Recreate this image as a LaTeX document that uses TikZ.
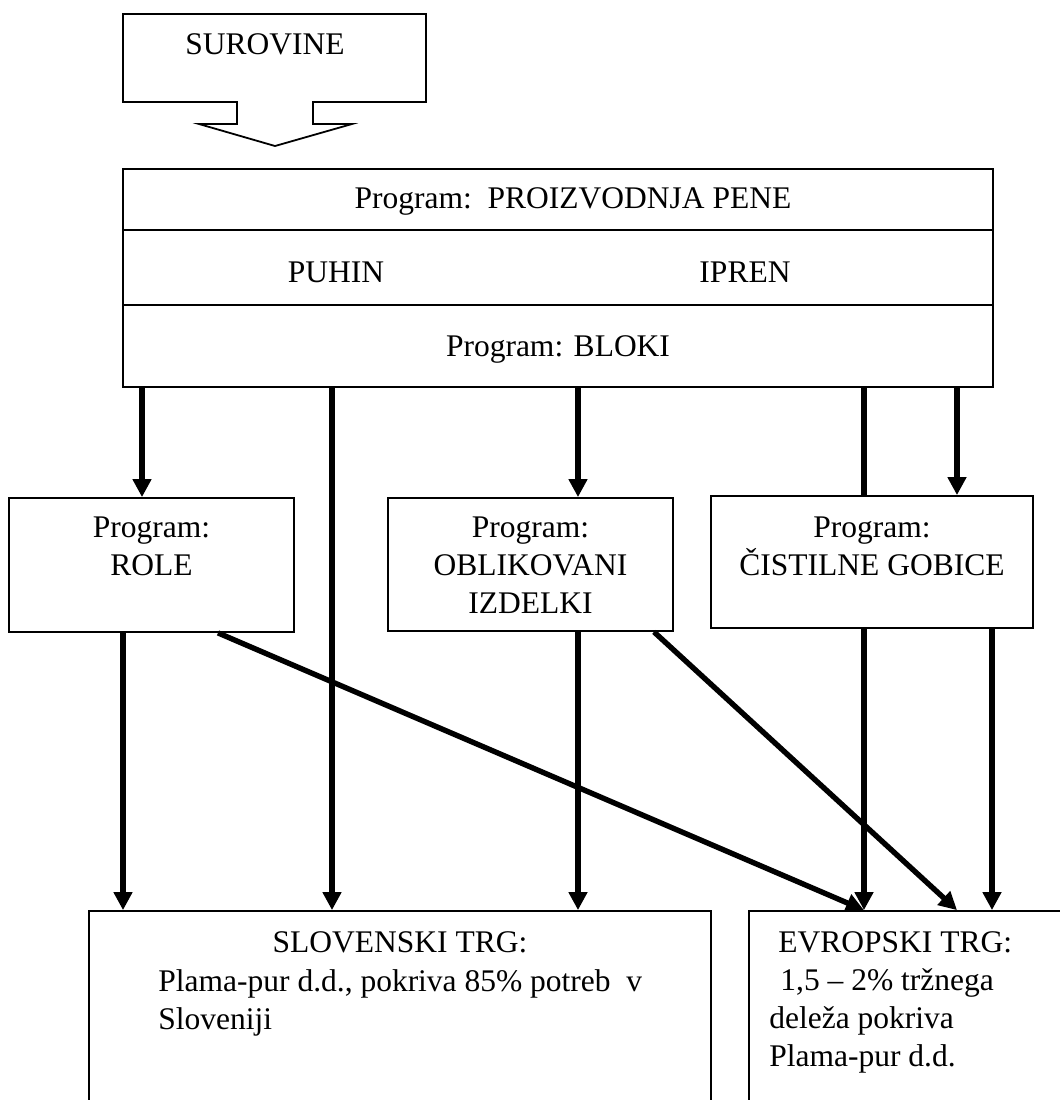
\documentclass[tikz,border=0pt]{standalone}
\usepackage{fontspec}
\setmainfont{Liberation Serif}
\usepackage{tikz}
\usetikzlibrary{arrows.meta,positioning,calc,fit}

\begin{document}
\begin{tikzpicture}[x=0.5pt, y=-0.5pt,
    every node/.style={font=\fontsize{15.75pt}{19pt}\selectfont, inner sep=0pt},
    box/.style={draw, line width=0.9pt, inner sep=0pt},
    txt/.style={anchor=north, align=center},
    flow/.style={line width=2.7pt, -{Triangle[length=9pt,width=9pt]}},
    plain/.style={line width=2.7pt}]
        \useasboundingbox (0,0) rectangle (1060,1100);
        \clip (0,0) rectangle (1060,1100);
        % Raw materials
        \draw[line width=0.9pt, line join=miter] (123,14) -- (426,14) -- (426,102) -- (313,102) -- (313,124) -- (352,124)
              -- (275,146) -- (199,124) -- (237,124) -- (237,102) -- (123,102) -- cycle;
        \node[txt] (surtxt) at (265,33) {SUROVINE};
        % Foam production
        \node[box, fit={(123,169) (993,387)}] (main) {};
        \draw[line width=0.9pt] ($(main.north west)+(0,62)$) -- ($(main.north east)+(0,62)$)
              ($(main.north west)+(0,137)$) -- ($(main.north east)+(0,137)$);
        \node[txt] (prodtxt) at (573,187) {Program:\ \ PROIZVODNJA PENE};
        \node[txt] (puhin) at (336,261) {PUHIN};
        \node[txt] (ipren) at (745,261) {IPREN};
        \node[txt] (bloki) at (558,335) {Program: BLOKI};
        % Programs
        \node[box, fit={(9,498) (294,632)}] (role) {};
        \node[txt] (roletxt) at ($(role.north)+(0,19)$) {Program:\\ROLE};
        \node[box, fit={(388,498) (673,631)}] (obl) {};
        \node[txt] (obltxt) at ($(obl.north)+(0,19)$) {Program:\\OBLIKOVANI\\IZDELKI};
        \node[box, fit={(711,496) (1033,628)}] (cis) {};
        \node[txt] (cistxt) at ($(cis.north)+(0,21)$) {Program:\\ČISTILNE GOBICE};
        % Markets
        \node[box, fit={(89,911) (711,1115)}] (slo) {};
        \node[txt] (slotit) at (400,931) {SLOVENSKI TRG:};
        \node[anchor=north west, align=left] (slotxt) at (158,969) {Plama-pur d.d., pokriva 85\% potreb\ \ v\\Sloveniji};
        \node[box, fit={(749,911) (1075,1115)}] (evr) {};
        \node[anchor=north west, align=left] (evrtxt) at (769,931)
              {\hspace*{4.5pt}EVROPSKI TRG:\\\hspace*{5.5pt}1,5 – 2\% tržnega\\deleža pokriva\\Plama-pur d.d.};
        % Columns
        \coordinate (xa) at (123,0);
        \coordinate (xb) at (142,0);
        \coordinate (xc) at (332,0);
        \coordinate (xd) at (578,0);
        \coordinate (xe) at (864,0);
        \coordinate (xf) at (957,0);
        \coordinate (xg) at (992,0);
        \coordinate (xr) at (218,0);
        \coordinate (xo) at (654,0);
        % Arrows
        \draw[flow] (main.south -| xb) -- (role.north -| xb);
        \draw[flow] (main.south -| xc) -- (slo.north -| xc);
        \draw[flow] (main.south -| xd) -- (obl.north -| xd);
        \draw[plain] (main.south -| xe) -- (cis.north -| xe);
        \draw[flow] (main.south -| xf) -- (cis.north -| xf);
        \draw[flow] (role.south -| xa) -- (slo.north -| xa);
        \draw[flow] (role.south -| xr) -- (evr.north -| xe);
        \draw[flow] (obl.south -| xd) -- (slo.north -| xd);
        \draw[flow] (obl.south -| xo) -- (evr.north -| xf);
        \draw[flow] (cis.south -| xe) -- (evr.north -| xe);
        \draw[flow] (cis.south -| xg) -- (evr.north -| xg);
\end{tikzpicture}
\end{document}
